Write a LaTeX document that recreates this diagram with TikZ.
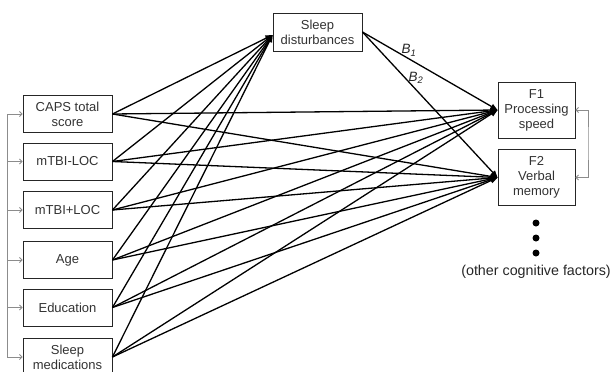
\documentclass[tikz,border=0pt]{standalone}
\usepackage{fontspec}
\setmainfont{Liberation Sans}
\usetikzlibrary{arrows.meta}
\begin{document}
\begin{tikzpicture}[x=1pt,y=-1pt,
  box/.style={draw=black!85, line width=0.9pt, fill=white, text=black!80, align=center,
    inner sep=0pt, font=\fontsize{13}{15}\selectfont},
  pbox/.style={box, minimum width=89pt, minimum height=37pt},
  fbox/.style={box, minimum width=77pt, minimum height=56pt},
  pathln/.style={line width=1.3pt, black, -{Triangle[length=7pt,width=5.5pt]}},
  corr/.style={draw=black!45, line width=0.9pt},
  corrtip/.style={corr, -{Straight Barb[length=2.5pt,width=5pt]}},
  lbl/.style={inner sep=1pt, text=black!85, font=\fontsize{13.5}{15}\selectfont\itshape},
  dot/.style={circle, fill=black, inner sep=0pt, minimum size=7pt}
]
\useasboundingbox (0,0) rectangle (614,372);
% nodes
\node[pbox] (caps) at (67.5,114) {CAPS total\\score};
\node[pbox] (loc) at (67.5,161.5) {mTBI-LOC};
\node[pbox] (locp) at (67.5,210) {mTBI+LOC};
\node[pbox] (age) at (67.5,260) {Age};
\node[pbox] (edu) at (67.5,307.5) {Education};
\node[pbox, minimum height=38pt] (med) at (67.5,357) {Sleep\\medications};
\node[box, minimum width=89pt, minimum height=38pt] (sd) at (317.5,32) {Sleep\\disturbances};
\node[fbox] (f1) at (536.5,110) {F1\\Processing\\speed};
\node[fbox] (f2) at (536.5,177.5) {F2\\Verbal\\memory};
\node[dot] (d1) at (536,223) {};
\node[dot] (d2) at (536,238) {};
\node[dot] (d3) at (536,253) {};
\node[inner sep=0pt, text=black!85, font=\fontsize{14.3}{16}\selectfont] (other) at (536,272) {(other cognitive factors)};
\coordinate (sdin) at ([yshift=-3pt]sd.west);
\coordinate (lb) at (7,114);
\coordinate (rb) at (588,143);
% paths
\foreach \p in {caps,loc,locp,age,edu,med}{
  \draw[pathln] (\p.east) -- (sdin);
  \draw[pathln] (\p.east) -- (f1.west);
  \draw[pathln] (\p.east) -- (f2.west);
}
\draw[pathln] (sd.east) -- node[lbl, pos=0.33, above, xshift=2pt] (b1) {B\textsubscript{1}} (f1.west);
\draw[pathln] (sd.east) -- node[lbl, pos=0.36, above right, xshift=-4pt, yshift=-1pt] (b2) {B\textsubscript{2}} (f2.west);
% correlations left
\draw[corr] (caps.west -| lb) -- (med.west -| lb);
\foreach \p in {caps,loc,locp,age,edu,med}{
  \draw[corrtip] (\p.west -| lb) -- (\p.west);
}
% correlation right
\draw[corr, {Straight Barb[length=2.5pt,width=5pt]}-{Straight Barb[length=2.5pt,width=5pt]}]
  (f1.east) -| (rb) |- (f2.east);
\end{tikzpicture}
\end{document}
